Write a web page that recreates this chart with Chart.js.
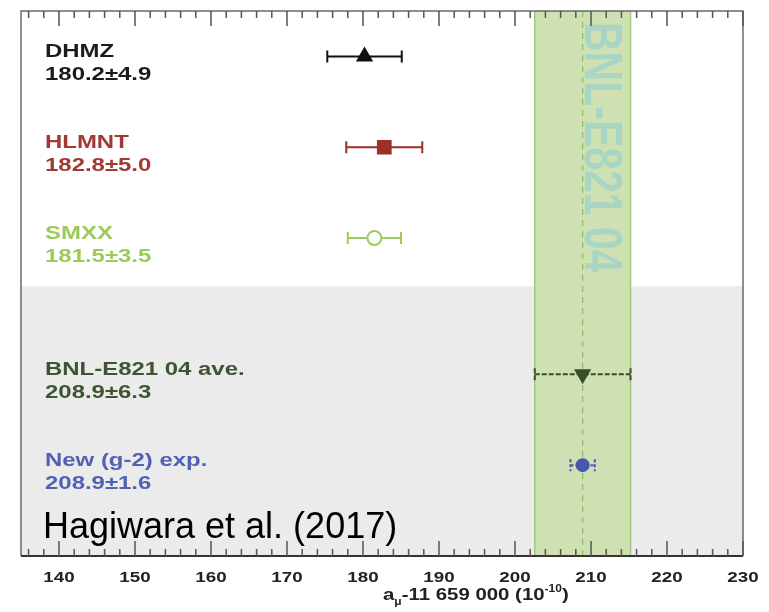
<!DOCTYPE html>
<html>
<head>
<meta charset="utf-8">
<script src="https://cdn.jsdelivr.net/npm/chart.js@4.4.1/dist/chart.umd.min.js"></script>
<style>
  html, body { margin: 0; padding: 0; background: #fff; }
  canvas { display: block; }
</style>
</head>
<body>
<canvas id="chart" width="769" height="612"></canvas>
<script>
// Measurements of the muon anomaly, a_mu - 11 659 000, in units of 1e-10
const names = ['DHMZ', 'HLMNT', 'SMXX', 'BNL-E821 04 ave.', 'New (g-2) exp.'];
const values = [180.2, 182.8, 181.5, 208.9, 208.9];
const errors = [4.9, 5.0, 3.5, 6.3, 1.6];
const rows = [5.5, 4.5, 3.5, 2, 1];
const xTicks = [140, 150, 160, 170, 180, 190, 200, 210, 220, 230];

const markerColors = ['#111111', '#9e2f27', '#9ccc5c', '#3a4e2a', '#4a56b0'];
const textColors = ['#1b1b1b', '#a23a33', '#9dcb5a', '#3d5530', '#5261b5'];
const pointStyles = ['triangle', 'rect', 'circle', 'triangle', 'circle'];
const pointRadii = [8, 9, 7, 8, 6];
const pointRotations = [0, 0, 0, 180, 0];
const pointFills = ['#111111', '#9e2f27', '#ffffff', '#3a4e2a', '#4a56b0'];
const barDashes = [[], [], [], [5, 2], [3, 2]];

const bandIndex = 3;          // the BNL average defines the green band
const shadedTop = 2.97;       // experiments sit in the grey area below this
const SANS = '"Liberation Sans", Arial, sans-serif';
const STRETCH = 1.3;

// draw text stretched horizontally around its anchor
function wideText(ctx, str, x, y, font, color, align, sx) {
  ctx.save();
  ctx.font = font;
  ctx.fillStyle = color;
  ctx.textAlign = align || 'left';
  ctx.textBaseline = 'alphabetic';
  ctx.translate(x, y);
  ctx.scale(sx || STRETCH, 1);
  ctx.fillText(str, 0, 0);
  ctx.restore();
}

const backdrop = {
  id: 'backdrop',
  beforeDatasetsDraw(chart) {
    const { ctx, chartArea: a, scales: { x, y } } = chart;
    ctx.save();
    ctx.fillStyle = '#ffffff';
    ctx.fillRect(0, 0, chart.width, chart.height);
    // grey area behind the experimental values
    const gy = y.getPixelForValue(shadedTop);
    ctx.fillStyle = '#ebebeb';
    ctx.fillRect(a.left, gy, a.right - a.left, a.bottom - gy);

    // BNL band
    const c = values[bandIndex], e = errors[bandIndex];
    const x0 = x.getPixelForValue(c - e), x1 = x.getPixelForValue(c + e), xc = x.getPixelForValue(c);
    ctx.fillStyle = '#cfe1b3';
    ctx.fillRect(x0, a.top, x1 - x0, a.bottom - a.top);
    ctx.strokeStyle = '#9fca80';
    ctx.lineWidth = 1.5;
    ctx.beginPath();
    ctx.moveTo(x0, a.top); ctx.lineTo(x0, a.bottom);
    ctx.moveTo(x1, a.top); ctx.lineTo(x1, a.bottom);
    ctx.stroke();

    // vertical band label
    ctx.save();
    ctx.translate(xc + 17, a.top + 11);
    ctx.scale(STRETCH, 1);
    ctx.rotate(Math.PI / 2);
    ctx.font = 'bold 41px ' + SANS;
    ctx.fillStyle = '#a9d6c4';
    ctx.textBaseline = 'middle';
    ctx.fillText('BNL-E821 04', 0, 0);
    ctx.restore();

    ctx.strokeStyle = '#8fc06c';
    ctx.lineWidth = 1.3;
    ctx.setLineDash([6, 5]);
    ctx.beginPath();
    ctx.moveTo(xc, a.top); ctx.lineTo(xc, a.bottom);
    ctx.stroke();
    ctx.setLineDash([]);

    // horizontal error bars with end caps
    values.forEach((v, i) => {
      const py = y.getPixelForValue(rows[i]);
      const l = x.getPixelForValue(v - errors[i]);
      const r = x.getPixelForValue(v + errors[i]);
      ctx.strokeStyle = markerColors[i];
      ctx.lineWidth = 2;
      ctx.setLineDash(barDashes[i]);
      ctx.beginPath();
      ctx.moveTo(l, py); ctx.lineTo(r, py);
      ctx.moveTo(l, py - 6); ctx.lineTo(l, py + 6);
      ctx.moveTo(r, py - 6); ctx.lineTo(r, py + 6);
      ctx.stroke();
    });
    ctx.setLineDash([]);
    ctx.restore();
  }
};

const frame = {
  id: 'frame',
  afterDraw(chart) {
    const { ctx, chartArea: a, scales: { x, y } } = chart;
    ctx.save();
    // box
    ctx.strokeStyle = '#6a6a6a';
    ctx.lineWidth = 1.5;
    ctx.beginPath();
    ctx.moveTo(a.left, a.bottom); ctx.lineTo(a.left, a.top);
    ctx.lineTo(a.right, a.top); ctx.lineTo(a.right, a.bottom);
    ctx.stroke();
    ctx.strokeStyle = '#333333';
    ctx.lineWidth = 2;
    ctx.beginPath();
    ctx.moveTo(a.left, a.bottom); ctx.lineTo(a.right, a.bottom);
    ctx.stroke();

    // inward ticks, top and bottom: major every 10, minor every 2
    ctx.strokeStyle = '#555555';
    ctx.lineWidth = 1.5;
    ctx.beginPath();
    for (let v = Math.ceil(x.min / 2) * 2; v <= x.max; v += 2) {
      const px = x.getPixelForValue(v);
      const len = v % 10 === 0 ? 15 : 7;
      ctx.moveTo(px, a.top); ctx.lineTo(px, a.top + len);
      ctx.moveTo(px, a.bottom); ctx.lineTo(px, a.bottom - len);
    }
    ctx.stroke();
    ctx.restore();

    // tick labels
    xTicks.forEach(t => {
      wideText(ctx, String(t), x.getPixelForValue(t), a.bottom + 26, 'bold 15px ' + SANS, '#222222', 'center', 1.25);
    });

    // axis title: a_mu-11 659 000 (10^-10)
    ctx.save();
    ctx.fillStyle = '#222222';
    ctx.textBaseline = 'alphabetic';
    ctx.translate(383, a.bottom + 44);
    ctx.scale(1.2, 1);
    let cx = 0;
    const part = (s, font, dy) => {
      ctx.font = font;
      ctx.fillText(s, cx, dy);
      cx += ctx.measureText(s).width;
    };
    part('a', 'bold 17px ' + SANS, 0);
    part('\u03bc', 'bold 10px ' + SANS, 5);
    part('-11 659 000 (10', 'bold 17px ' + SANS, 0);
    part('-10', 'bold 10px ' + SANS, -8);
    part(')', 'bold 17px ' + SANS, 0);
    ctx.restore();

    // measurement captions
    values.forEach((v, i) => {
      const py = y.getPixelForValue(rows[i]);
      wideText(ctx, names[i], 45, py + 1, 'bold 18px ' + SANS, textColors[i], 'left', 1.33);
      wideText(ctx, v.toFixed(1) + '\u00b1' + errors[i].toFixed(1), 45, py + 24, 'bold 18px ' + SANS, textColors[i], 'left', 1.33);
    });

    // citation
    ctx.save();
    ctx.font = '36px ' + SANS;
    ctx.fillStyle = '#000000';
    ctx.fillText('Hagiwara et al. (2017)', 43, a.bottom - 18);
    ctx.restore();
  }
};

new Chart(document.getElementById('chart'), {
  type: 'scatter',
  data: {
    datasets: names.map((n, i) => ({
      label: n,
      data: [{ x: values[i], y: rows[i] }],
      pointStyle: pointStyles[i],
      pointRadius: pointRadii[i],
      pointRotation: pointRotations[i],
      backgroundColor: pointFills[i],
      borderColor: markerColors[i],
      borderWidth: 2
    }))
  },
  options: {
    responsive: false,
    animation: false,
    devicePixelRatio: 1,
    layout: { padding: { left: 21, right: 26, top: 9, bottom: 56 } },
    scales: {
      x: { type: 'linear', min: 135, max: 230, display: false },
      y: { type: 'linear', min: 0, max: 6, display: false }
    },
    plugins: {
      legend: { display: false },
      tooltip: { enabled: false }
    }
  },
  plugins: [backdrop, frame]
});
</script>
</body>
</html>
